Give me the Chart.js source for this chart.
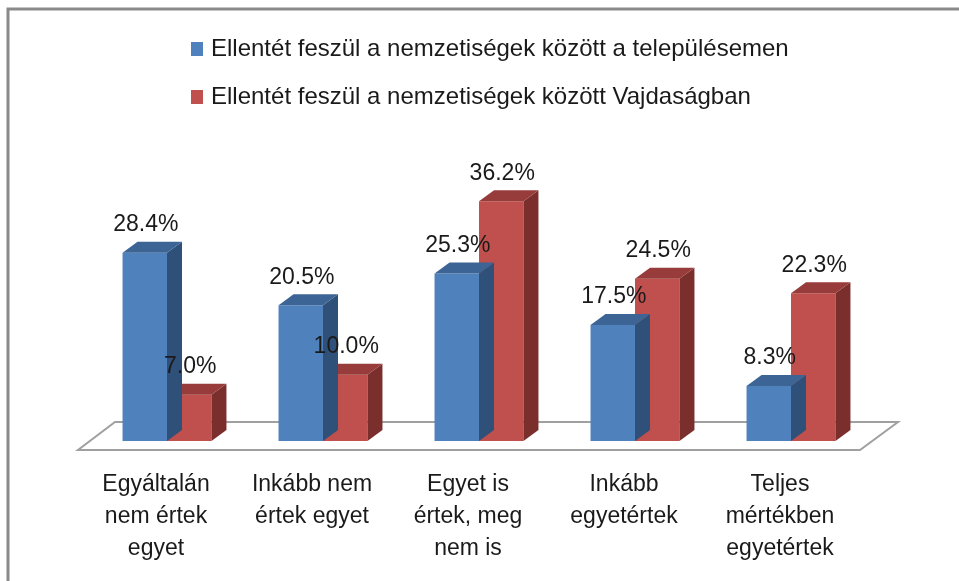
<!DOCTYPE html>
<html>
<head>
<meta charset="utf-8">
<script src="https://cdn.jsdelivr.net/npm/chart.js@4"></script>
<style>
  body { margin: 0; background: #fff; }
  #wrap { width: 959px; height: 581px; }
</style>
</head>
<body>
<div id="wrap"><canvas id="myChart"></canvas></div>
<script>
// Data

const categories = [
    ["Egyáltalán", "nem értek", "egyet"],
    ["Inkább nem", "értek egyet"],
    ["Egyet is", "értek, meg", "nem is"],
    ["Inkább", "egyetértek"],
    ["Teljes", "mértékben", "egyetértek"]
];
const seriesNames = [
    "Ellentét feszül a nemzetiségek között a településemen",
    "Ellentét feszül a nemzetiségek között Vajdaságban"
];
const localValues = [28.4, 20.5, 25.3, 17.5, 8.3];
const regionValues = [7.0, 10.0, 36.2, 24.5, 22.3];

const FONT = "'Liberation Sans', Arial, sans-serif";

// face colours per dataset: front, top, side
const faces = [
    { front: "#4F81BD", top: "#3C6494", side: "#2F5078" },
    { front: "#C0504D", top: "#973C3A", side: "#7A2F2D" }
];
const DX = 15, DY = 11;

// 3D bars, floor, labels, legend, frame
const bars3d = {
    id: "bars3d",
    beforeDatasetsDraw(chart) {
        const { ctx, chartArea: a } = chart;
        ctx.save();
        ctx.beginPath();
        ctx.moveTo(a.left + 26, a.bottom - 19);
        ctx.lineTo(a.right + 29, a.bottom - 19);
        ctx.lineTo(a.right - 9, a.bottom + 9);
        ctx.lineTo(a.left - 11, a.bottom + 9);
        ctx.closePath();
        ctx.fillStyle = "#fff";
        ctx.fill();
        ctx.lineWidth = 2;
        ctx.strokeStyle = "#A0A0A0";
        ctx.stroke();
        ctx.restore();
    },
    afterDatasetDraw(chart, args) {
        const { ctx } = chart;
        const f = faces[args.index];
        ctx.save();
        for (const bar of args.meta.data) {
            const l = bar.x - bar.width / 2, r = bar.x + bar.width / 2;
            const t = bar.y, b = bar.base;
            ctx.fillStyle = f.side;
            ctx.beginPath();
            ctx.moveTo(r, t);
            ctx.lineTo(r + DX, t - DY);
            ctx.lineTo(r + DX, b - DY);
            ctx.lineTo(r, b);
            ctx.closePath();
            ctx.fill();
            ctx.fillStyle = f.top;
            ctx.beginPath();
            ctx.moveTo(l, t);
            ctx.lineTo(l + DX, t - DY);
            ctx.lineTo(r + DX, t - DY);
            ctx.lineTo(r, t);
            ctx.closePath();
            ctx.fill();
        }
        ctx.restore();
    },
    afterDraw(chart) {
        const { ctx } = chart;
        ctx.save();
        // value labels
        ctx.font = "23px " + FONT;
        ctx.fillStyle = "#1a1a1a";
        ctx.textAlign = "center";
        ctx.textBaseline = "middle";
        chart.data.datasets.forEach((ds, i) => {
            chart.getDatasetMeta(i).data.forEach((bar, j) => {
                ctx.fillText(ds.data[j].toFixed(1) + "%", bar.x + 1, bar.y - 28);
            });
        });
        // legend
        ctx.font = "24px " + FONT;
        ctx.textAlign = "left";
        chart.data.datasets.forEach((ds, i) => {
            const y = 49 + i * 48;
            ctx.fillStyle = faces[i].front;
            ctx.fillRect(191, y - 7, 12, 14);
            ctx.fillStyle = "#1a1a1a";
            ctx.fillText(ds.label, 211, y);
        });
        // frame
        ctx.strokeStyle = "#8A8A8A";
        ctx.lineWidth = 3;
        ctx.beginPath();
        ctx.moveTo(8, 581);
        ctx.lineTo(8, 9);
        ctx.lineTo(959, 9);
        ctx.stroke();
        ctx.restore();
    }
};

const data = {
    labels: categories,
    datasets: [
        { label: seriesNames[0], data: localValues, backgroundColor: faces[0].front },
        { label: seriesNames[1], data: regionValues, backgroundColor: faces[1].front }
    ]
};

const config = {
    type: "bar",
    data,
    options: {
        responsive: true,
        maintainAspectRatio: false,
        animation: false,
        layout: { padding: { left: 89, right: 90, top: 176, bottom: 10 } },
        datasets: {
            bar: { categoryPercentage: 0.57, barPercentage: 1, borderWidth: 0 }
        },
        plugins: {
            legend: { display: false },
            tooltip: { enabled: false }
        },
        scales: {
            x: {
                grid: { display: false, drawTicks: false },
                border: { display: false },
                ticks: {
                    color: "#1a1a1a",
                    padding: 28,
                    labelOffset: -11,
                    maxRotation: 0,
                    font: { family: FONT, size: 23, lineHeight: 1.39 }
                },
                afterFit(scale) { scale.height = 130; }
            },
            y: { display: false, min: 0, max: 40 }
        }
    },
    plugins: [bars3d]
};

const myChart = new Chart(document.getElementById("myChart"), config);
</script>
</body>
</html>
